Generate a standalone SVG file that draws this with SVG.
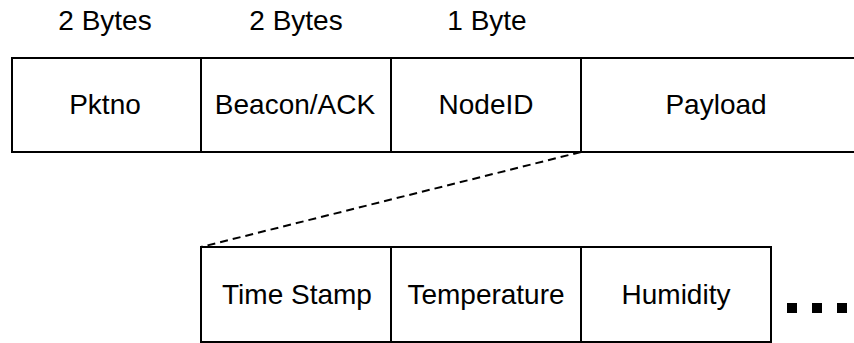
<svg xmlns="http://www.w3.org/2000/svg" width="854" height="343" viewBox="0 0 854 343">
<style>
.cell{fill:#fff;stroke:#000;stroke-width:2}
.t{font-family:"Liberation Sans",Arial,sans-serif;font-size:28px;fill:#000;text-anchor:middle}
.conn{stroke:#000;stroke-width:2;stroke-dasharray:8 5;fill:none}
</style>
<rect width="854" height="343" fill="#fff"/>
<g id="labels">
<text class="t" x="105" y="30">2 Bytes</text>
<text class="t" x="296" y="30">2 Bytes</text>
<text class="t" x="487" y="30">1 Byte</text>
</g>
<g id="pktno"><rect class="cell" x="12" y="58" width="189" height="94"/><text class="t" x="105" y="114">Pktno</text></g>
<g id="beacon"><rect class="cell" x="201" y="58" width="190" height="94"/><text class="t" x="295" y="114">Beacon/ACK</text></g>
<g id="nodeid"><rect class="cell" x="391" y="58" width="190" height="94"/><text class="t" x="486" y="114">NodeID</text></g>
<g id="payload"><rect class="cell" x="581" y="58" width="290" height="94"/><text class="t" x="716" y="114">Payload</text></g>
<g id="connectors"><line class="conn" x1="581" y1="152" x2="201" y2="247"/></g>
<g id="timestamp"><rect class="cell" x="201" y="247" width="190" height="95"/><text class="t" x="297" y="304">Time Stamp</text></g>
<g id="temperature"><rect class="cell" x="391" y="247" width="190" height="95"/><text class="t" x="486" y="304">Temperature</text></g>
<g id="humidity"><rect class="cell" x="581" y="247" width="190" height="95"/><text class="t" x="676" y="304">Humidity</text></g>
<g id="ellipsis">
<rect x="787" y="303" width="10" height="10" fill="#000"/>
<rect x="812" y="303" width="10" height="10" fill="#000"/>
<rect x="837" y="303" width="10" height="10" fill="#000"/>
</g>
</svg>
